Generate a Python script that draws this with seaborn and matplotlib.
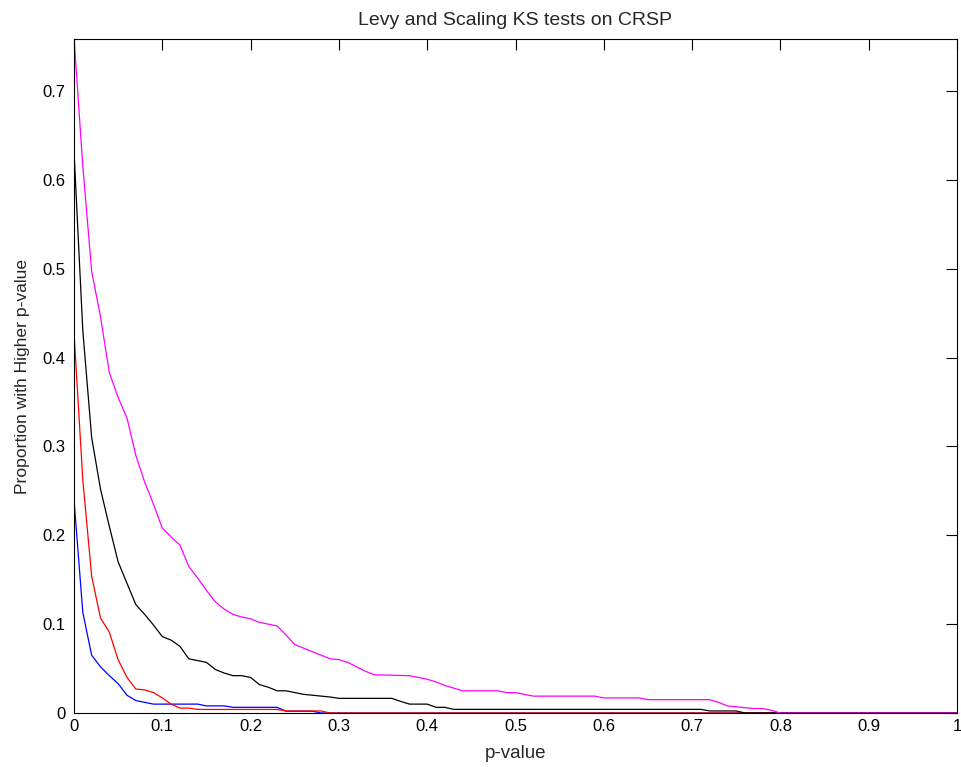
import matplotlib
matplotlib.use("Agg")
import matplotlib.pyplot as plt
import seaborn as sns
import pandas as pd

# ---- data ----
blue_x = [0, 0.01, 0.02, 0.03, 0.04, 0.05, 0.06, 0.07, 0.08, 0.09, 0.14, 0.15, 0.17, 0.18, 0.23, 0.24, 0.27, 0.28, 1.0]
blue_y = [0.240, 0.113, 0.065, 0.052, 0.042, 0.033, 0.020, 0.014, 0.012, 0.010, 0.010, 0.008, 0.008, 0.0064, 0.0064, 0.002, 0.002, 0.0, 0.0]

red_x = [0, 0.01, 0.02, 0.03, 0.04, 0.05, 0.06, 0.07, 0.08, 0.09, 0.10, 0.11, 0.12, 0.13, 0.14, 0.23, 0.24, 0.28, 0.29, 1.0]
red_y = [0.428, 0.262, 0.154, 0.107, 0.091, 0.060, 0.040, 0.027, 0.026, 0.023, 0.017, 0.010, 0.0055, 0.0055, 0.004, 0.004, 0.0023, 0.0023, 0.0, 0.0]

black_x = [0, 0.01, 0.02, 0.03, 0.04, 0.05, 0.06, 0.07, 0.08, 0.09, 0.10, 0.11, 0.12, 0.13, 0.14, 0.15, 0.16,
           0.17, 0.18, 0.19, 0.20, 0.21, 0.22, 0.23, 0.24, 0.25, 0.26, 0.27, 0.28, 0.29, 0.30, 0.36, 0.37, 0.38,
           0.40, 0.41, 0.42, 0.43, 0.71, 0.72, 0.75, 0.76, 1.0]
black_y = [0.632, 0.430, 0.310, 0.252, 0.210, 0.170, 0.146, 0.122, 0.111, 0.099, 0.086, 0.082, 0.075, 0.061, 0.059,
           0.057, 0.049, 0.045, 0.042, 0.042, 0.040, 0.032, 0.029, 0.025, 0.025, 0.023, 0.021, 0.020, 0.019, 0.018,
           0.0165, 0.0165, 0.013, 0.010, 0.010, 0.0064, 0.0064, 0.0041, 0.0041, 0.0023, 0.0023, 0.0, 0.0]

magenta_x = [0, 0.01, 0.02, 0.03, 0.04, 0.05, 0.06, 0.07, 0.08, 0.09, 0.10, 0.11, 0.12, 0.13, 0.14, 0.15, 0.16,
             0.17, 0.18, 0.19, 0.20, 0.21, 0.22, 0.23, 0.24, 0.25, 0.26, 0.27, 0.28, 0.29, 0.30, 0.31, 0.32, 0.33,
             0.34, 0.38, 0.39, 0.40, 0.41, 0.42, 0.43, 0.44, 0.48, 0.49, 0.50, 0.51, 0.52, 0.59, 0.60, 0.64, 0.65,
             0.72, 0.73, 0.74, 0.75, 0.76, 0.77, 0.78, 0.79, 0.80, 1.0]
magenta_y = [0.760, 0.615, 0.497, 0.446, 0.383, 0.355, 0.332, 0.290, 0.260, 0.235, 0.208, 0.198, 0.189, 0.165, 0.152,
             0.138, 0.125, 0.117, 0.111, 0.108, 0.106, 0.102, 0.100, 0.098, 0.088, 0.077, 0.073, 0.069, 0.065, 0.061,
             0.060, 0.057, 0.052, 0.047, 0.043, 0.042, 0.040, 0.038, 0.035, 0.031, 0.028, 0.025, 0.025, 0.023, 0.023,
             0.021, 0.019, 0.019, 0.017, 0.017, 0.015, 0.015, 0.012, 0.008, 0.007, 0.006, 0.005, 0.005, 0.003, 0.0, 0.0]

series_names = ["blue", "red", "black", "magenta"]
series_colors = {"blue": "#0000ff", "red": "#ff0000", "black": "#000000", "magenta": "#ff00ff"}

x_ticks = [0, 0.1, 0.2, 0.3, 0.4, 0.5, 0.6, 0.7, 0.8, 0.9, 1]
x_tick_labels = ["0", "0.1", "0.2", "0.3", "0.4", "0.5", "0.6", "0.7", "0.8", "0.9", "1"]
y_ticks = [0, 0.1, 0.2, 0.3, 0.4, 0.5, 0.6, 0.7]
y_tick_labels = ["0", "0.1", "0.2", "0.3", "0.4", "0.5", "0.6", "0.7"]

frames = []
for name, xs, ys in zip(series_names, [blue_x, red_x, black_x, magenta_x], [blue_y, red_y, black_y, magenta_y]):
    frames.append(pd.DataFrame({"p": xs, "prop": ys, "series": name}))
df = pd.concat(frames, ignore_index=True)

sns.set_theme(style="white")
plt.rcParams["font.family"] = ["Liberation Sans", "DejaVu Sans"]

fig = plt.figure(figsize=(9.61, 7.67), dpi=100)
ax = fig.add_axes([74 / 961, 54 / 767, 883 / 961, 674 / 767])

for name in series_names:
    sub = df[df["series"] == name]
    sns.lineplot(data=sub, x="p", y="prop", color=series_colors[name], linewidth=0.9,
                 ax=ax, sort=False, estimator=None, legend=False)

ax.set_xlim(0, 1)
ax.set_ylim(0, 0.7585)
ax.set_xticks(x_ticks)
ax.set_xticklabels(x_tick_labels)
ax.set_yticks(y_ticks)
ax.set_yticklabels(y_tick_labels)
ax.tick_params(direction="in", length=8, width=0.8, top=True, right=True,
               labelsize=12, colors="black")
ax.tick_params(axis="x", pad=4)
ax.tick_params(axis="y", pad=6)
for s in ax.spines.values():
    s.set_color("black")
    s.set_linewidth(0.8)
ax.set_xlabel("p-value", fontsize=13.5, labelpad=8)
ax.set_ylabel("Proportion with Higher p-value", fontsize=12.6, labelpad=9)
ax.set_title("Levy and Scaling KS tests on CRSP", fontsize=14, pad=10)

fig.savefig("out.png", dpi=100, facecolor="white")
